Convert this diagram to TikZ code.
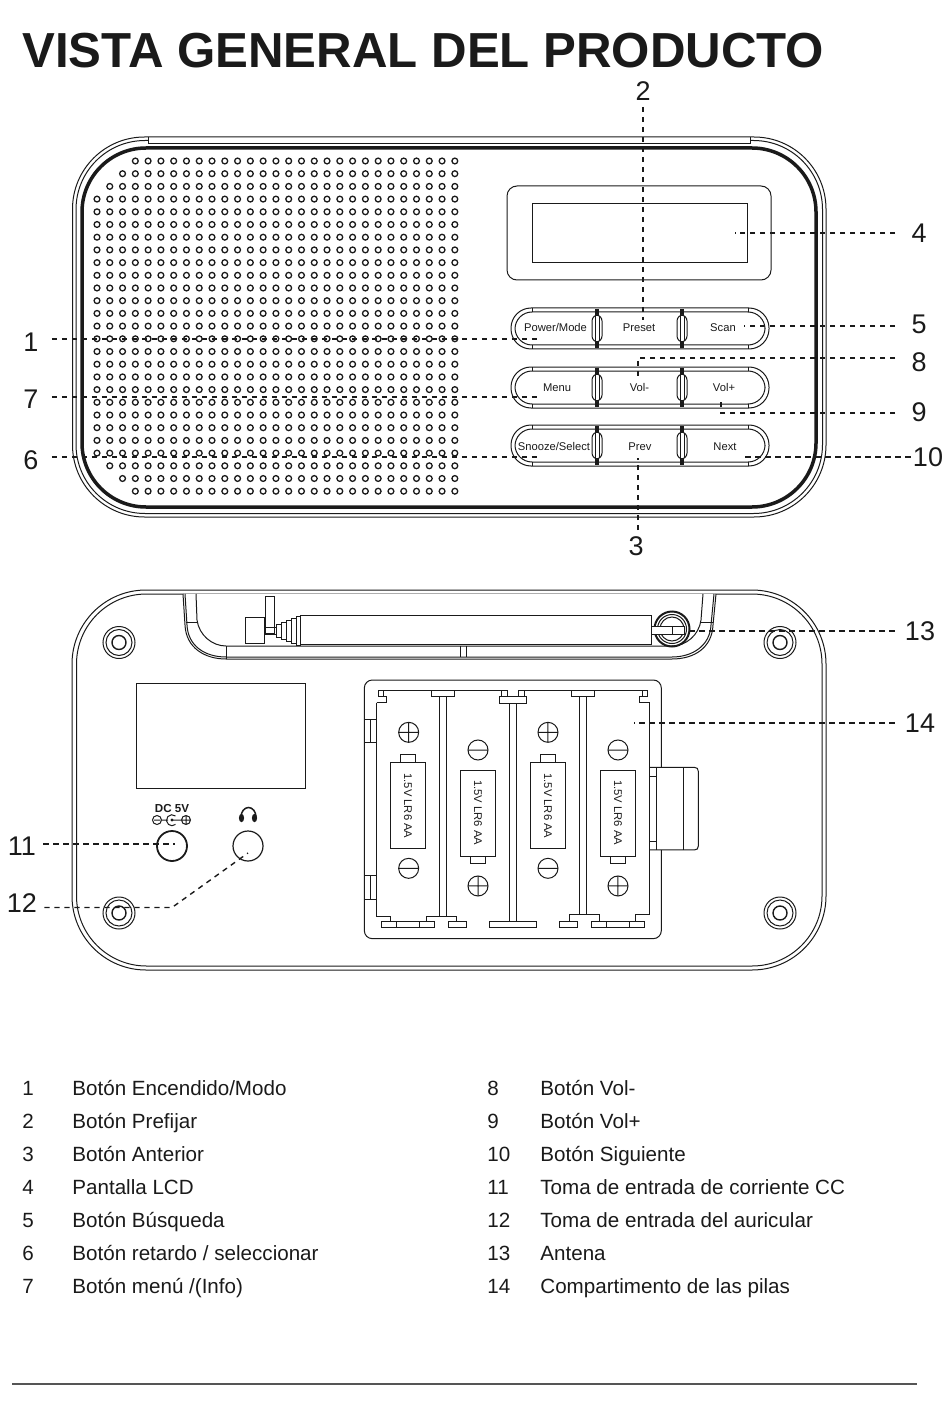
\documentclass[tikz,border=0pt]{standalone}
\usepackage{fontspec}
\setmainfont{Liberation Sans}
\definecolor{RuleGray}{HTML}{555555}
\definecolor{InkBlack}{HTML}{1A1A1A}
\tikzset{
    thinline/.style={draw=InkBlack, line width=.5pt},
    wideline/.style={draw=InkBlack, line width=1.75pt},
    leader/.style={draw=InkBlack, line width=.7pt, dash pattern=on 2.6pt off 2.4pt},
    callout/.style={font=\fontsize{13.5}{15}\selectfont, text=InkBlack, inner xsep=8pt, inner ysep=3pt},
    legendtext/.style={anchor=base west, font=\fontsize{10.3}{12}\selectfont, text=InkBlack, inner sep=0},
    keytext/.style={anchor=base, font=\fontsize{5.6}{6}\selectfont, text=InkBlack, inner sep=0},
    celltext/.style={font=\fontsize{5.6}{6}\selectfont, text=InkBlack, inner sep=0, rotate=-90},
}
\newcommand{\legendItem}[5]{%
    \node[legendtext] (num#1) at (#2,#4) {#1};
    \node[legendtext] (txt#1) at (#3,#4) {#5};
}
\newcommand{\keyPill}[1]{% top edge of one row of keys
    \draw[thinline, rounded corners=10pt] (511,#1) rectangle (769,#1+41);
    \draw[thinline, rounded corners=8.5pt] (515,#1+4) rectangle (765,#1+37);
    \foreach \seam in {532,748}
        \draw[thinline] (\seam,#1) -- (\seam,#1+4) (\seam,#1+37) -- (\seam,#1+41);
    \foreach \gap in {597,682} {
        \draw[wideline, line width=2.4pt] (\gap,#1+1) -- (\gap,#1+40);
        \draw[thinline, fill=white, rounded corners=3] (\gap-5,#1+7) rectangle (\gap+5,#1+34);
        \draw[thinline] (\gap-2,#1+8) -- (\gap-2,#1+33) (\gap+2,#1+8) -- (\gap+2,#1+33);
    }
}
\newcommand{\screwHole}[2]{%
    \draw[thinline] (#1,#2) circle (16) circle (13);
    \draw[thinline, line width=.7pt] (#1,#2) circle (7);
}
\begin{document}
\begin{tikzpicture}[x=.5pt, y=-.5pt]
    \path[use as bounding box] (0,0) rectangle (950,1401);
    \node[anchor=base west, inner sep=0, font=\fontsize{24.6}{30}\bfseries\selectfont, text=InkBlack] (title) at (22,68) {VISTA GENERAL DEL PRODUCTO};
    %
    %
    % Front of the radio
    \draw[thinline, rounded corners=36] (72.5,137) rectangle (826,517);
    \draw[thinline, rounded corners=34.5] (76,140.5) rectangle (822.5,513.5);
    \draw[draw=white, line width=1pt] (148,140.5) -- (750,140.5);
    \draw[thinline] (148,137) -- (148,144) -- (750,144) -- (750,137);
    \draw[wideline, rounded corners=32] (82,148) rectangle (816,507);
    \foreach \row in {0,...,26} {
        \pgfmathtruncatemacro{\colfrom}{max(3-\row,\row-23,0)}
        \foreach \col in {\colfrom,...,28}
            \draw[thinline, line width=.65pt] ({97+12.78*\col},{161+12.7*\row}) circle (2.9);
    }
    \draw[thinline, rounded corners=5] (507,186) rectangle (771,280);
    \draw[thinline] (532,204) rectangle (747,263);
    \keyPill{308}
    \keyPill{367}
    \keyPill{425}
    \node[keytext] (keyPower) at (555.5,332) {Power/Mode};
    \node[keytext] (keyPreset) at (639,332) {Preset};
    \node[keytext] (keyScan) at (723,332) {Scan};
    \node[keytext] (keyMenu) at (557,391) {Menu};
    \node[keytext] (keyVolm) at (639.5,391) {Vol-};
    \node[keytext] (keyVolp) at (724,391) {Vol+};
    \node[keytext] (keySnooze) at (554,450) {Snooze/Select};
    \node[keytext] (keyPrev) at (640,450) {Prev};
    \node[keytext] (keyNext) at (725,450) {Next};
    %
    %
    % Back of the radio
    \draw[thinline, rounded corners=37] (72,590) rectangle (826,970);
    \draw[thinline, rounded corners=35] (76.5,594) rectangle (822,966);
    \draw[thinline, fill=white] (183,594) -- (185,625) .. controls (186,648) and (205,659) .. (226,659) -- (672,659)
        .. controls (694,659) and (712,648) .. (713,625) -- (716,594);
    \draw[thinline] (185,594) -- (187,625) .. controls (188,646) and (205,657) .. (226,657) -- (672,657)
        .. controls (692,657) and (710,646) .. (711,625) -- (714,594);
    \draw[thinline] (196,594) -- (197,620) .. controls (199,635) and (212,646) .. (226,646) -- (672,646)
        .. controls (686,646) and (699,635) .. (701,620) -- (703,594);
    \draw[thinline] (186,622) -- (197,622) (701,622) -- (713,622) (226,646) -- (226,659) (460,646) -- (460,657) (466,646) -- (466,657);
    \draw[thinline] (265,596) rectangle (274,633);
    \draw[thinline, fill=white] (245,617) rectangle (264,643);
    \draw[thinline] (264,627) -- (276,627) (264,634) -- (276,634);
    \draw[thinline, fill=white] (276,624) rectangle (281,637);
    \draw[thinline, fill=white] (281,622) rectangle (286,639);
    \draw[thinline, fill=white] (286,620) rectangle (291,641);
    \draw[thinline, fill=white] (291,618) rectangle (296,643);
    \draw[thinline, fill=white] (296,616) rectangle (300,645);
    \draw[thinline, fill=white] (300,615) rectangle (651,644);
    \draw[wideline, line width=1pt] (672,629) circle (17.5);
    \draw[thinline] (672,629) circle (14.5) circle (12);
    \draw[thinline, fill=white] (651,626) rectangle (684,634);
    \draw[thinline] (672,626) -- (672,634);
    \screwHole{119}{642.5}
    \screwHole{780}{642.5}
    \screwHole{119}{913}
    \screwHole{780}{913}
    \draw[thinline] (136,683) rectangle (305,788);
    \draw[wideline, line width=.9pt] (172,846) circle (15);
    \draw[thinline, line width=.6pt] (248,846) circle (15);
    \node[inner sep=0, font=\fontsize{5.8}{6}\bfseries\selectfont, text=InkBlack] (dcLabel) at (172,808) {DC 5V};
    \draw[thinline, line width=.5pt] (157,820) circle (4.5) (154,820) -- (160,820) (161.5,820) -- (168,820)
        (186,820) circle (4.5) (182,820) -- (190,820) (186,816) -- (186,824) (172,820) -- (181.5,820);
    \draw[thinline, line width=.5pt] (175.5,816) arc (-50:-310:5.5);
    \fill[InkBlack] (172,820) circle (1.6);
    % headphones
    \draw[wideline, line width=.75pt] (241,817) arc (180:360:7.5 and 9.5);
    \fill[InkBlack] (241.5,818) ellipse (2.6 and 4.2) (254.5,818) ellipse (2.6 and 4.2);
    %
    %
    % Battery box, drawn on the 3x grid of the box
    \begin{scope}[shift={(355,670)}, x=.5pt/3, y=-.5pt/3]
        \draw[thinline, fill=white, rounded corners=4pt] (28,30) rectangle (919,806);
        \draw[thinline, fill=white] (884,292) -- (1018,292) .. controls (1026,292) and (1030,296) .. (1030,304)
            -- (1030,528) .. controls (1030,536) and (1026,540) .. (1018,540) -- (884,540);
        \draw[thinline] (985,292) -- (985,540) (904,292) -- (904,540) (884,318) -- (904,318) (884,515) -- (904,515);
        \draw[thinline] (65,98) -- (65,740) -- (105,740) -- (105,755)
            (884,98) -- (884,735) -- (842,735) -- (842,755)
            (215,755) -- (215,740) -- (305,740) -- (305,755)
            (645,755) -- (645,735) -- (733,735) -- (733,755)
            (65,98) -- (95,98) -- (95,78) -- (85,78) -- (85,60) -- (70,60) -- (70,78) -- (85,78)
            (884,98) -- (854,98) -- (854,78) -- (864,78) -- (864,60) -- (878,60) -- (878,78) -- (864,78)
            (85,60) -- (458,60) -- (458,78) -- (440,78) -- (440,62)
            (490,78) -- (490,60) -- (864,60) (490,78) -- (508,78) -- (508,62);
        \draw[thinline] (28,148) -- (65,148) (28,218) -- (65,218) (47,148) -- (47,218)
            (28,616) -- (65,616) (28,688) -- (65,688) (47,616) -- (47,688);
        \draw[thinline, fill=white] (229,62) rectangle (299,78);
        \draw[thinline, fill=white] (649,62) rectangle (719,78);
        \draw[thinline, fill=white] (433,80) rectangle (515,100);
        \draw[thinline] (253,78) -- (253,740) (274,78) -- (274,740);
        \draw[thinline] (463,100) -- (463,755) (484,100) -- (484,755);
        \draw[thinline] (673,78) -- (673,735) (694,78) -- (694,735);
        \draw[thinline] (80,755) rectangle (125,772) (125,755) rectangle (193,772) (193,755) rectangle (239,772);
        \draw[thinline] (281,755) rectangle (334,772) (404,755) rectangle (545,772) (614,755) rectangle (667,772);
        \draw[thinline] (710,755) rectangle (755,772) (755,755) rectangle (824,772) (824,755) rectangle (868,772);
        % First cell
        \draw[thinline] (161,187) circle (30) (131,187) -- (191,187) (161,157) -- (161,217);
        \draw[thinline] (136,277) -- (136,253) -- (182,253) -- (182,277);
        \draw[thinline] (107,277) rectangle (212,535);
        \draw[thinline] (161,595) circle (30) (131,595) -- (191,595);
        \node[celltext] (cellA) at (159,408) {1.5V LR6 AA};
        % Second cell
        \draw[thinline] (369,240) circle (30) (339,240) -- (399,240);
        \draw[thinline] (317,301) rectangle (421,559);
        \draw[thinline] (346,559) -- (346,582) -- (392,582) -- (392,559);
        \draw[thinline] (369,648) circle (30) (339,648) -- (399,648) (369,618) -- (369,678);
        \node[celltext] (cellB) at (369,428) {1.5V LR6 AA};
        % Third cell
        \draw[thinline] (579,187) circle (30) (549,187) -- (609,187) (579,157) -- (579,217);
        \draw[thinline] (556,277) -- (556,253) -- (602,253) -- (602,277);
        \draw[thinline] (527,277) rectangle (632,535);
        \draw[thinline] (579,595) circle (30) (549,595) -- (609,595);
        \node[celltext] (cellC) at (579,408) {1.5V LR6 AA};
        % Fourth cell
        \draw[thinline] (789,240) circle (30) (759,240) -- (819,240);
        \draw[thinline] (737,301) rectangle (841,559);
        \draw[thinline] (766,559) -- (766,582) -- (812,582) -- (812,559);
        \draw[thinline] (789,648) circle (30) (759,648) -- (819,648) (789,618) -- (789,678);
        \node[celltext] (cellD) at (789,428) {1.5V LR6 AA};
    \end{scope}
    %
    %
    % Callout numbers
    \node[callout, inner xsep=6.5pt] (n1) at (31,342) {1};
    \node[callout] (n2) at (643,91) {2};
    \node[callout] (n3) at (636,546) {3};
    \node[callout] (n4) at (919,233) {4};
    \node[callout] (n5) at (919,324) {5};
    \node[callout, inner xsep=6.5pt] (n6) at (31,460) {6};
    \node[callout, inner xsep=6.5pt] (n7) at (31,399) {7};
    \node[callout] (n8) at (919,362) {8};
    \node[callout] (n9) at (919,412) {9};
    \node[callout, inner xsep=1pt] (n10) at (928,457) {10};
    \node[callout, inner xsep=3.5pt] (n11) at (22,846) {11};
    \node[callout, inner xsep=3.5pt] (n12) at (22,903) {12};
    \node[callout, inner xsep=5pt] (n13) at (920,631) {13};
    \node[callout, inner xsep=5pt] (n14) at (920,723) {14};
    \coordinate (p1) at (537,339);
    \coordinate (p2) at (643,320);
    \coordinate (p3) at (638,458);
    \coordinate (p4) at (735,233);
    \coordinate (p5) at (744,326);
    \coordinate (p6) at (537,457);
    \coordinate (p7) at (537,397);
    \coordinate (b8) at (638,358);
    \coordinate (p8) at (638,377);
    \coordinate (b9) at (721,413);
    \coordinate (p9) at (721,398);
    \coordinate (p10) at (741,457);
    \coordinate (p11) at (175,844);
    \coordinate (b12) at (172,907.5);
    \coordinate (p12) at (248,853);
    \coordinate (p13) at (688,631);
    \coordinate (p14) at (634,723);
    \draw[leader] (n1.east |- p1) -- (p1);
    \draw[leader] (n2.south -| p2) -- (p2);
    \draw[leader] (n3.north -| p3) -- (p3);
    \draw[leader] (n4.west |- p4) -- (p4);
    \draw[leader] (n5.west |- p5) -- (p5);
    \draw[leader] (n6.east |- p6) -- (p6);
    \draw[leader] (n7.east |- p7) -- (p7);
    \draw[leader] (n8.west |- b8) -- (b8) -- (p8);
    \draw[leader] (n9.west |- b9) -- (b9) -- (p9);
    \draw[leader] (n10.west |- p10) -- (p10);
    \draw[leader] (n11.east |- p11) -- (p11);
    \draw[leader] (n12.east |- b12) -- (b12) -- (p12);
    \draw[leader] (n13.west |- p13) -- (p13);
    \draw[leader] (n14.west |- p14) -- (p14);
    %
    %
    % Legend
    \legendItem{1}{22}{72}{1095}{Botón Encendido/Modo}
    \legendItem{2}{22}{72}{1128}{Botón Prefijar}
    \legendItem{3}{22}{72}{1161}{Botón Anterior}
    \legendItem{4}{22}{72}{1194}{Pantalla LCD}
    \legendItem{5}{22}{72}{1227}{Botón Búsqueda}
    \legendItem{6}{22}{72}{1260}{Botón retardo / seleccionar}
    \legendItem{7}{22}{72}{1293}{Botón menú /(Info)}
    \legendItem{8}{487}{540}{1095}{Botón Vol-}
    \legendItem{9}{487}{540}{1128}{Botón Vol+}
    \legendItem{10}{487}{540}{1161}{Botón Siguiente}
    \legendItem{11}{487}{540}{1194}{Toma de entrada de corriente CC}
    \legendItem{12}{487}{540}{1227}{Toma de entrada del auricular}
    \legendItem{13}{487}{540}{1260}{Antena}
    \legendItem{14}{487}{540}{1293}{Compartimento de las pilas}
    \draw[draw=RuleGray, line width=.6pt] (12,1384) -- (917,1384);
\end{tikzpicture}
\end{document}
